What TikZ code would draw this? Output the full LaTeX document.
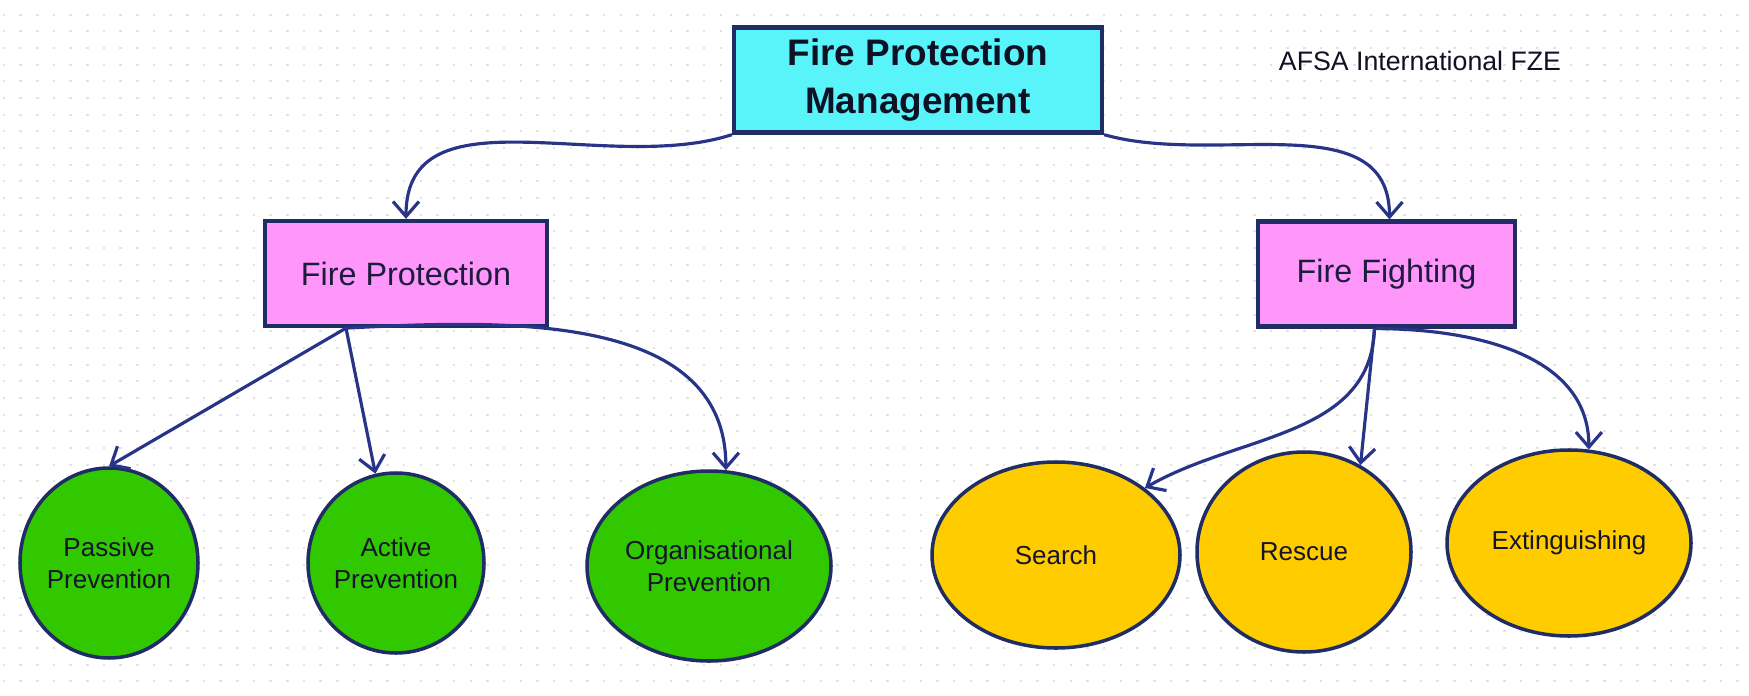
\documentclass[tikz,border=0pt]{standalone}
\usepackage{fontspec}
\setmainfont{Liberation Sans}
\usetikzlibrary{shapes.geometric,arrows.meta}

\definecolor{boxline}{RGB}{31,45,100}
\definecolor{arrowblue}{RGB}{40,52,135}
\definecolor{inkblue}{RGB}{28,28,62}
\definecolor{topcyan}{RGB}{88,244,250}
\definecolor{midpink}{RGB}{255,150,250}
\definecolor{leafgreen}{RGB}{50,200,0}
\definecolor{leafyellow}{RGB}{255,204,0}

\begin{document}
\begin{tikzpicture}[
    topbox/.style={draw=boxline, line width=1.2pt, fill=topcyan, text=inkblue!60!black,
        minimum width=3.68cm, minimum height=1.04cm, align=center,
        font=\fontsize{10.5}{13.4}\selectfont\bfseries},
    midbox/.style={draw=boxline, line width=1.2pt, fill=midpink, text=inkblue,
        minimum height=1.05cm, font=\fontsize{9.2}{11}\selectfont},
    leaf/.style={ellipse, draw=boxline, line width=1pt, inner sep=0pt, align=center,
        text=inkblue!70!black, font=\fontsize{7.4}{9.2}\selectfont},
    prevention/.style={leaf, fill=leafgreen},
    fighting/.style={leaf, fill=leafyellow},
    link/.style={draw=arrowblue, line width=0.9pt, -{Straight Barb[length=1.5mm,width=2.6mm]}},
    griddot/.style={draw=black!11, line width=0.25mm, dash pattern=on 0.2mm off 1.467mm, dash phase=0.3mm}
]
    % Background and page size
    \useasboundingbox (0,0) rectangle (17.49,6.95);
    \fill[white] (0,0) rectangle (17.49,6.95);
    \foreach \i in {0,...,104}
        \draw[griddot] (0.04+\i*0.1667,6.95) -- (0.04+\i*0.1667,0);

    % Define nodes
    \node[topbox] (fpm) at (9.18,6.15) {Fire Protection\\Management};
    \node[text=inkblue!60!black, font=\fontsize{7.6}{9}\selectfont] (afsa) at (14.20,6.34) {AFSA International FZE};

    \node[midbox, minimum width=2.82cm] (fp) at (4.06,4.215) {Fire Protection};
    \node[midbox, minimum width=2.57cm] (ff) at (13.865,4.21) {Fire Fighting};

    \node[prevention, minimum width=1.78cm, minimum height=1.90cm] (passive) at (1.09,1.32) {Passive\\Prevention};
    \node[prevention, minimum width=1.76cm, minimum height=1.80cm] (active) at (3.96,1.32) {Active\\Prevention};
    \node[prevention, minimum width=2.44cm, minimum height=1.90cm] (organ) at (7.09,1.29) {Organisational\\Prevention};

    \node[fighting, minimum width=2.48cm, minimum height=1.86cm] (search) at (10.56,1.40) {Search};
    \node[fighting, minimum width=2.14cm, minimum height=2.00cm] (rescue) at (13.04,1.43) {Rescue};
    \node[fighting, minimum width=2.44cm, minimum height=1.86cm] (extin) at (15.69,1.52) {Extinguishing};

    \coordinate (fpout) at ([xshift=-0.6cm]fp.south);
    \coordinate (ffout) at ([xshift=-0.12cm]ff.south);

    % Draw links
    \draw[link] (fpm.south west) to[out=198,in=90] (fp.north);
    \draw[link] (fpm.south east) to[out=-16,in=90] ([xshift=0.03cm]ff.north);

    \draw[link] (fpout) -- (passive.north);
    \draw[link] (fpout) -- (active.103);
    \draw[link] (fpout) to[out=3,in=90] (organ.80);

    \draw[link] (ffout) to[out=-92,in=30] (search.north east);
    \draw[link] (ffout) -- (rescue.57);
    \draw[link] (ffout) to[out=0,in=90] (extin.78);
\end{tikzpicture}
\end{document}
